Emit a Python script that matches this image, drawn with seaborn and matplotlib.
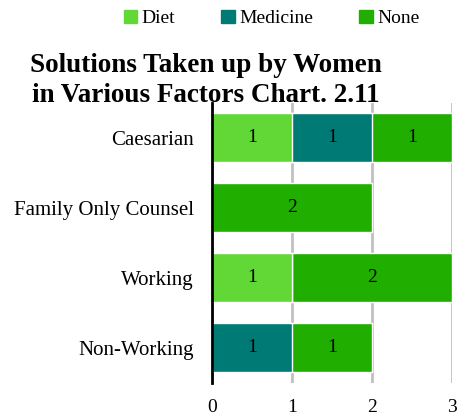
import matplotlib
matplotlib.use("Agg")
import matplotlib.pyplot as plt
import seaborn as sns
import pandas as pd

categorias = ["Caesarian", "Family Only Counsel", "Working", "Non-Working"]
diet = [1, 0, 1, 0]
medicine = [1, 0, 0, 1]
none = [1, 2, 2, 1]

colores = {"Diet": "#62d836", "Medicine": "#007a74", "None": "#20ae00"}

sns.set_style("white")
plt.rcParams["font.family"] = ["Liberation Serif", "DejaVu Serif"]
plt.rcParams["text.color"] = "black"
plt.rcParams["xtick.color"] = "black"
plt.rcParams["ytick.color"] = "black"

df = pd.DataFrame({"Factor": categorias, "Diet": diet, "Medicine": medicine, "None": none})
df["c1"] = df["Diet"]
df["c2"] = df["Diet"] + df["Medicine"]
df["c3"] = df["c2"] + df["None"]

fig = plt.figure(figsize=(4.6, 4.15), dpi=100)
ax = fig.add_axes([0.461, 0.078, 0.522, 0.675])

# barras acumuladas, de la mas larga a la mas corta
for col, serie in [("c3", "None"), ("c2", "Medicine"), ("c1", "Diet")]:
    sns.barplot(data=df, x=col, y="Factor", orient="h", color=colores[serie],
                width=0.7, saturation=1, ax=ax, zorder=3)

# etiquetas dentro de las barras
for i in range(len(categorias)):
    izq = 0
    for serie in ["Diet", "Medicine", "None"]:
        v = df[serie][i]
        if v > 0:
            ax.text(izq + v / 2, i, str(v), ha="center", va="center", fontsize=14, zorder=5)
        izq += v

ax.set_xlim(0, 3)
ax.set_ylim(3.5, -0.5)
ax.set_xticks([0, 1, 2, 3])
ax.xaxis.grid(True, color="#c0c0c0", linewidth=2, zorder=0)
ax.set_axisbelow(True)
for s in ["top", "right", "bottom"]:
    ax.spines[s].set_visible(False)
ax.spines["left"].set_color("black")
ax.spines["left"].set_linewidth(2)
ax.spines["left"].set_zorder(6)
ax.tick_params(axis="both", length=0, labelsize=14)
ax.tick_params(axis="y", labelsize=15, pad=13)
ax.tick_params(axis="x", pad=12)
ax.set_xlabel("")
ax.set_ylabel("")

fig.text(0.448, 0.806, "Solutions Taken up by Women\nin Various Factors Chart. 2.11",
         ha="center", va="center", fontsize=19.5, fontweight="bold", linespacing=1.3)

handles = [plt.Rectangle((0, 0), 1, 1, color=colores[s]) for s in ["Diet", "Medicine", "None"]]
fig.legend(handles, ["Diet", "Medicine", "None"], loc="center", bbox_to_anchor=(0.59, 0.955),
           ncol=3, frameon=False, fontsize=14, handlelength=0.7, handleheight=0.7,
           handletextpad=0.2, columnspacing=2.4)

fig.savefig("out.png", dpi=100)
